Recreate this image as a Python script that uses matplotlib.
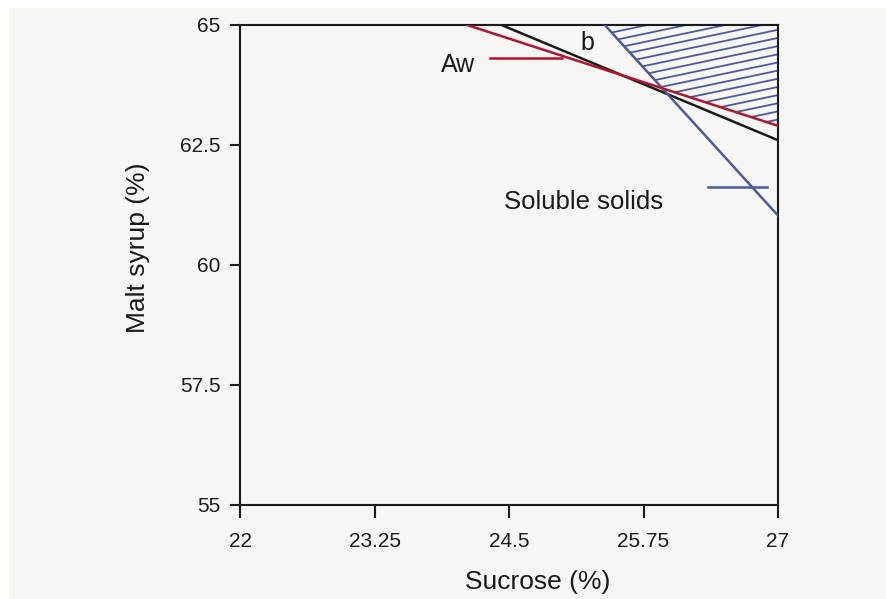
import matplotlib
matplotlib.use("Agg")
import matplotlib.pyplot as plt
from matplotlib.patches import Polygon, Rectangle
import numpy as np

plt.rcParams['font.family'] = ['Liberation Sans', 'DejaVu Sans']

# lines, each given by its two end points (sucrose %, malt syrup %)
black_x = [24.43, 27.0]
black_y = [65.0, 62.60]
red_x = [24.11, 27.0]
red_y = [65.0, 62.90]
blue_x = [25.39, 27.0]
blue_y = [65.0, 61.03]

# hatch lines in the feasible area: value at x=27 and common slope
hatch_y27 = [65.74, 65.57, 65.40, 65.23, 65.07, 64.90, 64.73, 64.56, 64.39,
             64.22, 64.05, 63.88, 63.71, 63.54, 63.37, 63.20, 63.03]
hatch_slope = 0.47

xticks = [22, 23.25, 24.5, 25.75, 27]
xtick_labels = ['22', '23.25', '24.5', '25.75', '27']
yticks = [55, 57.5, 60, 62.5, 65]
ytick_labels = ['55', '57.5', '60', '62.5', '65']

bg = '#f6f6f2'
ink = '#1a1a1a'
red = '#b3142d'
blue = '#4b5a9e'

fig = plt.figure(figsize=(8.86, 5.99), dpi=100)
fig.patch.set_facecolor('white')
fig.patches.append(Rectangle((9 / 886, 0), 1, 591 / 599, transform=fig.transFigure,
                             facecolor=bg, edgecolor='none', zorder=-10))

ax = fig.add_axes([240 / 886, 94 / 599, 538 / 886, 480 / 599])
ax.set_facecolor(bg)
ax.set_xlim(22, 27)
ax.set_ylim(55, 65)

# hatched region: above red line, right of blue line
def meet(x1, y1, x2, y2):
    m1 = (y1[1] - y1[0]) / (x1[1] - x1[0])
    m2 = (y2[1] - y2[0]) / (x2[1] - x2[0])
    xi = (y2[0] - y1[0] + m1 * x1[0] - m2 * x2[0]) / (m1 - m2)
    return xi, y1[0] + m1 * (xi - x1[0])

xi, yi = meet(red_x, red_y, blue_x, blue_y)
region = Polygon([(blue_x[0], blue_y[0]), (27, 65), (red_x[1], red_y[1]), (xi, yi)],
                 closed=True, transform=ax.transData, facecolor='none', edgecolor='none')
ax.add_patch(region)
hx = np.array([25.0, 27.0])
for c in hatch_y27:
    ln, = ax.plot(hx, c + hatch_slope * (hx - 27), color=blue, lw=1.3, zorder=2)
    ln.set_clip_path(region)

ax.plot(black_x, black_y, color=ink, lw=1.8, zorder=3)
ax.plot(blue_x, blue_y, color=blue, lw=1.8, zorder=3)
ax.plot(red_x, red_y, color=red, lw=1.8, zorder=4)

# labels with leader lines
ax.plot([24.32, 24.99], [64.31, 64.31], color=red, lw=1.8, clip_on=False)
ax.text(24.03, 64.17, 'Aw', fontsize=18, color=ink, ha='center', va='center')
ax.text(25.23, 64.62, 'b', fontsize=18, color=ink, ha='center', va='center')
ax.plot([26.35, 26.90], [61.62, 61.62], color=blue, lw=1.8)
ax.text(25.19, 61.31, 'Soluble solids', fontsize=18.5, color=ink, ha='center', va='center')

ax.set_xticks(xticks)
ax.set_xticklabels(xtick_labels)
ax.set_yticks(yticks)
ax.set_yticklabels(ytick_labels)
ax.tick_params(axis='x', direction='out', length=9.5, width=1.5, pad=10,
               labelsize=15, colors=ink, top=False)
ax.tick_params(axis='y', direction='out', length=7, width=1.5, pad=7,
               labelsize=15, colors=ink, right=False)
for s in ax.spines.values():
    s.set_color(ink)
    s.set_linewidth(1.5)

ax.set_xlabel('Sucrose (%)', fontsize=19, color=ink, va='center')
ax.xaxis.set_label_coords(0.554, -0.160)
ax.set_ylabel('Malt syrup (%)', fontsize=19, color=ink, va='center')
ax.yaxis.set_label_coords(-0.19, 0.535)

fig.savefig('out.png', dpi=100, facecolor=fig.get_facecolor())
